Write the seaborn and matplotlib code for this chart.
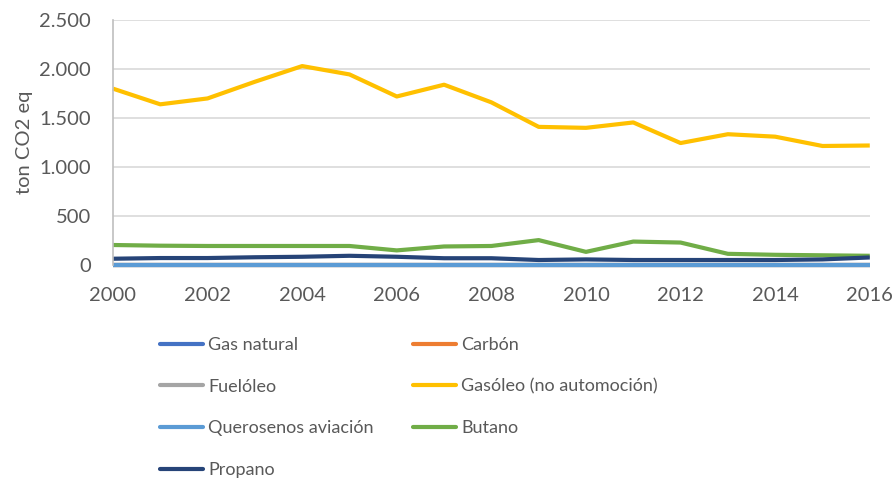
import numpy as np
import pandas as pd
import matplotlib.pyplot as plt
import matplotlib.ticker as mticker
import seaborn as sns

years = list(range(2000, 2017))
gas_natural = [0] * 17
carbon = [0] * 17
fueloleo = [0] * 17
gasoleo = [1800, 1640, 1700, 1870, 2030, 1945, 1720, 1840, 1660, 1410,
           1400, 1455, 1245, 1335, 1310, 1215, 1220]
querosenos = [0] * 17
butano = [205, 198, 195, 195, 195, 195, 150, 190, 195, 255,
          135, 240, 230, 115, 105, 100, 95]
propano = [65, 72, 72, 80, 85, 95, 85, 70, 70, 52,
           58, 52, 52, 52, 52, 58, 78]

series = {
    'Gas natural': gas_natural,
    'Carbón': carbon,
    'Fuelóleo': fueloleo,
    'Gasóleo (no automoción)': gasoleo,
    'Querosenos aviación': querosenos,
    'Butano': butano,
    'Propano': propano,
}
colors = ['#4472C4', '#ED7D31', '#A5A5A5', '#FFC000', '#5B9BD5', '#70AD47', '#264478']

df = pd.DataFrame([
    {'year': y, 'fuel': name, 'value': v}
    for name, vals in series.items() for y, v in zip(years, vals)
])

sns.set_style('white')
plt.rcParams['font.family'] = ['Lato', 'DejaVu Sans']
text_color = '#595959'

fig = plt.figure(figsize=(8.93, 4.82), dpi=100)
ax = fig.add_axes([0.1265, 0.450, 0.8475, 0.5085])

sns.lineplot(data=df, x='year', y='value', hue='fuel',
             palette=dict(zip(series.keys(), colors)),
             linewidth=3, ax=ax, legend=False)
for ln in ax.lines:
    ln.set_clip_on(False)
    ln.set_solid_capstyle('butt')

ax.set_xlim(2000, 2016)
ax.set_ylim(0, 2500)
ax.set_xticks(range(2000, 2017, 2))
ax.set_yticks(range(0, 2501, 500))
ax.yaxis.set_major_formatter(mticker.FuncFormatter(lambda v, p: f'{int(v):,}'.replace(',', '.')))
ax.grid(axis='y', color='#D9D9D9', linewidth=1.2)
ax.set_axisbelow(True)
for s in ['top', 'right', 'bottom']:
    ax.spines[s].set_visible(False)
ax.spines['left'].set_color('#BFBFBF')
ax.spines['left'].set_linewidth(1.2)
ax.tick_params(axis='both', length=0, labelsize=14.5, colors=text_color)
ax.tick_params(axis='y', pad=16)
ax.tick_params(axis='x', pad=16)
ax.set_xlabel('')
ax.set_ylabel('ton CO2 eq', fontsize=14.5, color=text_color, labelpad=4)

names = list(series.keys())
handles = [plt.Line2D([], [], color=c, linewidth=3) for c in colors]
leg_kw = dict(loc='upper left', frameon=False, fontsize=13, labelcolor=text_color,
              handlelength=2.4, handletextpad=0.28, labelspacing=1.42,
              borderaxespad=0, borderpad=0)
col1 = [0, 2, 4, 6]
col2 = [1, 3, 5]
fig.legend([handles[i] for i in col1], [names[i] for i in col1],
           bbox_to_anchor=(160 / 893, 1 - 337 / 482), **leg_kw)
fig.legend([handles[i] for i in col2], [names[i] for i in col2],
           bbox_to_anchor=(413 / 893, 1 - 337 / 482), **leg_kw)

fig.savefig('out.png', dpi=100)
